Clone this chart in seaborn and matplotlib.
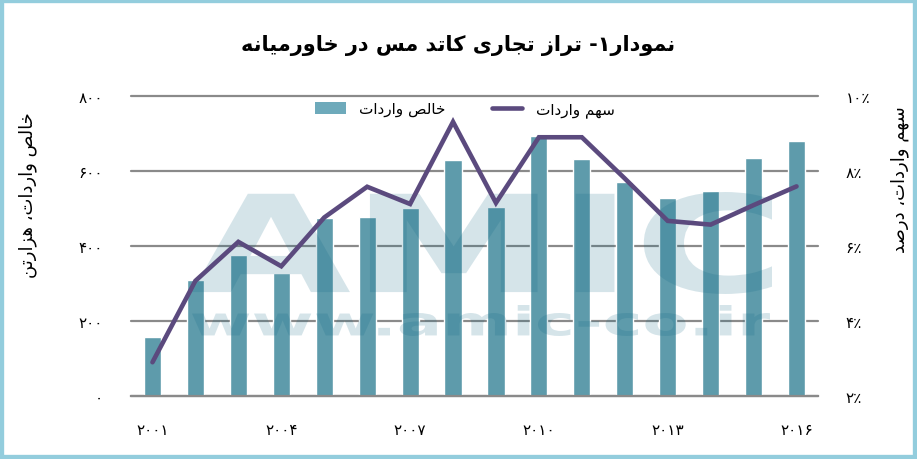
import re
import numpy as np
import pandas as pd
import matplotlib
matplotlib.use("Agg")
import matplotlib.pyplot as plt
import seaborn as sns
from matplotlib.textpath import TextPath
from matplotlib.patches import PathPatch, Rectangle, Patch
from matplotlib.lines import Line2D
from matplotlib.font_manager import FontProperties
from matplotlib.transforms import Affine2D

# ---------------- data ----------------
years = [2001, 2002, 2003, 2004, 2005, 2006, 2007, 2008,
         2009, 2010, 2011, 2012, 2013, 2014, 2015, 2016]
net_imports = [157, 309, 377, 328, 475, 477, 502, 629,
               505, 694, 632, 571, 529, 547, 635, 680]          # thousand tonnes
import_share = [2.9, 5.07, 6.11, 5.46, 6.76, 7.58, 7.12, 9.31,
                7.15, 8.9, 8.9, 7.8, 6.67, 6.57, 7.09, 7.59]    # percent
labeled_years = [2001, 2004, 2007, 2010, 2013, 2016]
left_ticks = [0, 200, 400, 600, 800]
right_ticks = [2, 4, 6, 8, 10]

title_text = "نمودار۱- تراز تجاری کاتد مس در خاورمیانه"
left_label = "خالص واردات، هزارتن"
right_label = "سهم واردات، درصد"
bar_name = "خالص واردات"
line_name = "سهم واردات"

# ---------------- minimal Persian shaping ----------------
FORMS = {
    "\u0627": ("\uFE8D", "\uFE8E", None, None),
    "\u062A": ("\uFE95", "\uFE96", "\uFE97", "\uFE98"),
    "\u062C": ("\uFE9D", "\uFE9E", "\uFE9F", "\uFEA0"),
    "\u062E": ("\uFEA5", "\uFEA6", "\uFEA7", "\uFEA8"),
    "\u062F": ("\uFEA9", "\uFEAA", None, None),
    "\u0631": ("\uFEAD", "\uFEAE", None, None),
    "\u0632": ("\uFEAF", "\uFEB0", None, None),
    "\u0633": ("\uFEB1", "\uFEB2", "\uFEB3", "\uFEB4"),
    "\u0635": ("\uFEB9", "\uFEBA", "\uFEBB", "\uFEBC"),
    "\u0644": ("\uFEDD", "\uFEDE", "\uFEDF", "\uFEE0"),
    "\u0645": ("\uFEE1", "\uFEE2", "\uFEE3", "\uFEE4"),
    "\u0646": ("\uFEE5", "\uFEE6", "\uFEE7", "\uFEE8"),
    "\u0647": ("\uFEE9", "\uFEEA", "\uFEEB", "\uFEEC"),
    "\u0648": ("\uFEED", "\uFEEE", None, None),
    "\u06CC": ("\uFBFC", "\uFBFD", "\uFBFE", "\uFBFF"),
    "\u06A9": ("\uFB8E", "\uFB8F", "\uFB90", "\uFB91"),
}


def shape(text):
    def dual(c):
        f = FORMS.get(c)
        return f is not None and f[2] is not None
    out = []
    for i, c in enumerate(text):
        f = FORMS.get(c)
        if f is None:
            out.append(c)
            continue
        prev = text[i - 1] if i > 0 else None
        nxt = text[i + 1] if i + 1 < len(text) else None
        jp = prev is not None and dual(prev)
        jn = nxt is not None and dual(c) and nxt in FORMS
        if jp and jn:
            out.append(f[3])
        elif jp:
            out.append(f[1])
        elif jn:
            out.append(f[2])
        else:
            out.append(f[0])
    s = "".join(out)
    tokens = re.findall(r"[0-9\u06F0-\u06F9]+|.", s)
    return "".join(reversed(tokens))


FA_DIGITS = str.maketrans("0123456789", "۰۱۲۳۴۵۶۷۸۹")


def fa(n):
    return str(n).translate(FA_DIGITS)


# ---------------- figure ----------------
sns.set_style("white")
plt.rcParams["font.family"] = ["DejaVu Sans"]
plt.rcParams["text.color"] = "black"
plt.rcParams["xtick.color"] = "black"
plt.rcParams["ytick.color"] = "black"
plt.rcParams["axes.labelcolor"] = "black"

W, H = 917, 460
AX_L, AX_R, AX_T, AX_B = 131, 818, 97, 397
fig = plt.figure(figsize=(W / 100, H / 100), dpi=100)
ax = fig.add_axes([AX_L / W, 1 - AX_B / H, (AX_R - AX_L) / W, (AX_B - AX_T) / H])


def ax_frac(px, py):
    return (px - AX_L) / (AX_R - AX_L), (AX_B - py) / (AX_B - AX_T)


df = pd.DataFrame({"year": [str(y) for y in years],
                   "pos": np.arange(len(years)),
                   "net": net_imports,
                   "share": import_share})

bar_color = "#5e9bab"
line_color = "#5b4a7e"
grid_color = "#8a8a8a"

sns.barplot(data=df, x="year", y="net", color=bar_color, width=0.4,
            saturation=1, ax=ax, zorder=2)
ax.set_axisbelow(True)
ax.set_ylim(0, 800)
ax.set_xlim(-0.5, len(years) - 0.5)
ax.set_yticks(left_ticks)
ax.set_yticklabels([fa(v) for v in left_ticks], fontsize=11)
ax.yaxis.grid(True, color=grid_color, linewidth=1.6)
for gl in ax.get_ygridlines():
    gl.set_clip_on(False)
ax.tick_params(axis="y", length=0, pad=20)
for s in ["left", "right", "top"]:
    ax.spines[s].set_visible(False)
ax.spines["bottom"].set_color(grid_color)
ax.spines["bottom"].set_linewidth(1.6)

# x ticks: labels at selected years, tick marks at category boundaries
label_pos = [years.index(y) for y in labeled_years]
ax.set_xticks(label_pos)
ax.set_xticklabels([fa(y) for y in labeled_years], fontsize=11)
ax.set_xticks(np.arange(len(years) + 1) - 0.5, minor=True)
ax.tick_params(axis="x", which="major", length=0, pad=19)
ax.tick_params(axis="x", which="minor", length=6, width=1.6, color=grid_color,
               direction="out")
ax.set_xlabel("")
ax.set_ylabel(shape(left_label), fontsize=13, rotation=90)
ax.yaxis.set_label_coords(*ax_frac(37, 195))

ax2 = ax.twinx()
sns.lineplot(data=df, x="pos", y="share", color=line_color, linewidth=3.3,
             ax=ax2, solid_capstyle="round", solid_joinstyle="miter", zorder=3)
ax2.set_ylim(2, 10)
ax2.set_yticks(right_ticks)
ax2.set_yticklabels([fa(v) + "٪" for v in right_ticks], fontsize=11)
ax2.tick_params(axis="y", length=0, pad=20)
for s in ["left", "right", "top", "bottom"]:
    ax2.spines[s].set_visible(False)
ax2.set_xlabel("")
ax2.set_ylabel(shape(right_label), fontsize=13, rotation=90)
ax2.yaxis.set_label_coords(*ax_frac(890, 180))
ax2.set_xlim(-0.5, len(years) - 0.5)

ax.set_zorder(0)
ax2.set_zorder(1)
ax2.patch.set_visible(False)

# legend
handles = [Patch(facecolor="#6eaabb", edgecolor="none"),
           Line2D([0], [0], color=line_color, linewidth=3.3, solid_capstyle="round")]
if ax.get_legend() is not None:
    ax.get_legend().remove()
ax2.legend(handles, [shape(bar_name), shape(line_name)], loc="center",
           bbox_to_anchor=ax_frac(465, 110), ncol=2, frameon=False, fontsize=11,
           handlelength=2.0, handletextpad=0.9, columnspacing=3.0,
           handleheight=0.8)

# title
fig.text(0.5, 1 - 45 / H, shape(title_text), ha="center", va="center",
         fontsize=15, fontweight="bold", color="black")


# watermark
def fitted_text(s, box, weight, color, alpha):
    tp = TextPath((0, 0), s, size=100,
                  prop=FontProperties(family="DejaVu Sans", weight=weight))
    ext = tp.get_extents()
    x0, yt, x1, yb = box
    tr = (Affine2D().translate(-ext.x0, -ext.y0)
          .scale((x1 - x0) / ext.width, (yb - yt) / ext.height)
          .translate(x0, H - yb).scale(1 / W, 1 / H))
    p = PathPatch(tr.transform_path(tp), transform=fig.transFigure,
                  facecolor=color, edgecolor="none", alpha=alpha, zorder=0.5)
    fig.add_artist(p)


fitted_text("AMIC", (192, 193, 772, 295), "bold", "#0a6482", 0.17)
fitted_text("www.amic-co.ir", (192, 306, 770, 337), "bold", "#0a6482", 0.17)

# figure border
fig.add_artist(Rectangle((0, 0), 1, 1, transform=fig.transFigure, fill=False,
                         edgecolor="#93cddd", linewidth=6, zorder=10))

fig.savefig("out.png", dpi=100)
